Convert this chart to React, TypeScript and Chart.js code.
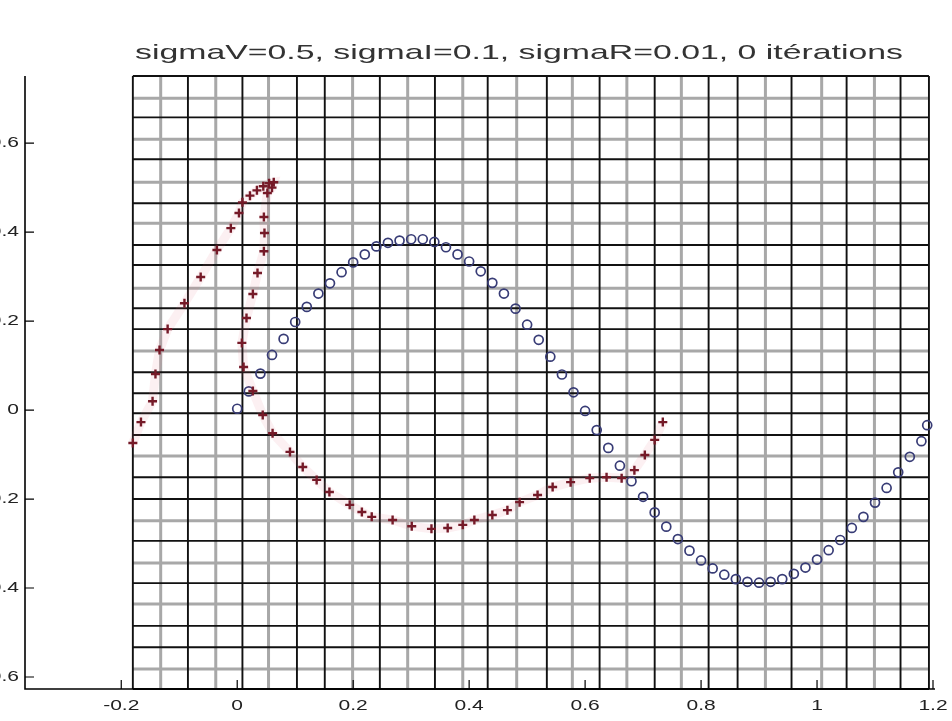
import React, { useEffect, useRef } from "react";
import { Chart, registerables } from "chart.js";
Chart.register(...registerables);

const TITLE = "sigmaV=0.5, sigmaI=0.1, sigmaR=0.01, 0 itérations";

const xTicks = [-0.2, 0, 0.2, 0.4, 0.6, 0.8, 1, 1.2];
const xTickLabels = ["-0.2", "0", "0.2", "0.4", "0.6", "0.8", "1", "1.2"];
const yTicks = [-0.6, -0.4, -0.2, 0, 0.2, 0.4, 0.6];
const yTickLabels = ["-0.6", "-0.4", "-0.2", "0", "0.2", "0.4", "0.6"];

const blueX = [
  0.0, 0.02, 0.04, 0.06, 0.08, 0.1, 0.12, 0.14, 0.16, 0.18,
  0.2, 0.22, 0.24, 0.26, 0.28, 0.3, 0.32, 0.34, 0.36, 0.38,
  0.4, 0.42, 0.44, 0.46, 0.48, 0.5, 0.52, 0.54, 0.56, 0.58,
  0.6, 0.62, 0.64, 0.66, 0.68, 0.7, 0.72, 0.74, 0.76, 0.78,
  0.8, 0.82, 0.84, 0.86, 0.88, 0.9, 0.92, 0.94, 0.96, 0.98,
  1.0, 1.02, 1.04, 1.06, 1.08, 1.1, 1.12, 1.14, 1.16, 1.18, 1.19,
];
const blueY = [
  0.003, 0.042, 0.082, 0.124, 0.16, 0.198, 0.232, 0.262, 0.285, 0.31,
  0.332, 0.35, 0.368, 0.376, 0.381, 0.384, 0.384, 0.378, 0.366, 0.35,
  0.334, 0.312, 0.286, 0.262, 0.228, 0.192, 0.158, 0.12, 0.08, 0.04,
  -0.002, -0.045, -0.085, -0.125, -0.16, -0.195, -0.23, -0.262, -0.29, -0.316,
  -0.338, -0.356, -0.37, -0.38, -0.386, -0.388, -0.386, -0.38, -0.368, -0.354,
  -0.336, -0.315, -0.292, -0.265, -0.24, -0.208, -0.175, -0.14, -0.105, -0.07, -0.034,
];

const redX = [
  -0.18, -0.166, -0.146, -0.141, -0.134, -0.12, -0.091, -0.063, -0.035, -0.011,
  0.003, 0.009, 0.022, 0.034, 0.045, 0.055, 0.063, 0.06, 0.052, 0.046,
  0.047, 0.046, 0.035, 0.027, 0.016, 0.008, 0.011, 0.027, 0.044, 0.061,
  0.091, 0.113, 0.137, 0.159, 0.194, 0.215, 0.232, 0.268, 0.301, 0.335,
  0.363, 0.389, 0.409, 0.44, 0.466, 0.487, 0.518, 0.544, 0.575, 0.608,
  0.637, 0.663, 0.685, 0.703, 0.72, 0.734,
];
const redY = [
  -0.074, -0.027, 0.02, 0.081, 0.135, 0.182, 0.24, 0.299, 0.36, 0.409,
  0.443, 0.467, 0.482, 0.494, 0.503, 0.51, 0.512, 0.5, 0.488, 0.434,
  0.398, 0.357, 0.308, 0.261, 0.207, 0.151, 0.097, 0.043, -0.011, -0.052,
  -0.094, -0.128, -0.157, -0.184, -0.213, -0.229, -0.24, -0.247, -0.261, -0.267,
  -0.265, -0.258, -0.247, -0.236, -0.225, -0.207, -0.191, -0.173, -0.162, -0.153,
  -0.151, -0.153, -0.135, -0.101, -0.067, -0.027,
];

// mesh lines (data units)
const meshX = [
  -0.18, -0.132, -0.085, -0.037, 0.009, 0.054, 0.103, 0.151, 0.199, 0.246,
  0.294, 0.341, 0.389, 0.432, 0.482, 0.534, 0.578, 0.625, 0.672, 0.72,
  0.766, 0.813, 0.863, 0.911, 0.956, 1.008, 1.051, 1.099, 1.144, 1.193,
];
const meshY = [
  0.751, 0.701, 0.658, 0.609, 0.564, 0.512, 0.465, 0.42, 0.371, 0.326,
  0.274, 0.229, 0.182, 0.133, 0.085, 0.038, -0.007, -0.056, -0.103, -0.151,
  -0.2, -0.249, -0.294, -0.344, -0.389, -0.436, -0.485, -0.533, -0.582, -0.627,
];
const meshXTone = "BGBGBGBBGBGBGBGBGBGBGBBGBGBGBB";
const meshYTone = "BGBGBGBGBBGBBGBBBBGBBGBGBGBBGB";

const X_MIN = -0.366;
const X_MAX = 1.2;
const Y_MIN = -0.627;
const Y_MAX = 0.751;

const FONT = '"Liberation Sans", Arial, Helvetica, sans-serif';
const STRETCH = 1.4;

const meshPlugin = {
  id: "mesh",
  beforeDatasetsDraw(chart: any) {
    const { ctx } = chart;
    const xs = chart.scales.x;
    const ys = chart.scales.y;
    const left = xs.getPixelForValue(meshX[0]);
    const right = xs.getPixelForValue(meshX[meshX.length - 1]);
    const top = ys.getPixelForValue(meshY[0]);
    const bottom = ys.getPixelForValue(meshY[meshY.length - 1]);
    ctx.save();
    for (const pass of ["G", "B"]) {
      if (pass === "G") {
        ctx.strokeStyle = "rgba(110,110,110,0.6)";
        ctx.lineWidth = 3;
      } else {
        ctx.strokeStyle = "#111";
        ctx.lineWidth = 1.9;
      }
      ctx.beginPath();
      meshX.forEach((v, i) => {
        if (meshXTone[i] !== pass) return;
        const p = xs.getPixelForValue(v);
        ctx.moveTo(p, top);
        ctx.lineTo(p, bottom);
      });
      meshY.forEach((v, i) => {
        if (meshYTone[i] !== pass) return;
        const p = ys.getPixelForValue(v);
        ctx.moveTo(left, p);
        ctx.lineTo(right, p);
      });
      ctx.stroke();
    }
    ctx.restore();
  },
  afterDraw(chart: any) {
    const { ctx, chartArea } = chart;
    const xs = chart.scales.x;
    const ys = chart.scales.y;
    ctx.save();
    // axes lines
    ctx.strokeStyle = "#000";
    ctx.lineWidth = 1.6;
    ctx.beginPath();
    ctx.moveTo(chartArea.left, chartArea.top);
    ctx.lineTo(chartArea.left, chartArea.bottom);
    ctx.lineTo(chartArea.right + 2, chartArea.bottom);
    ctx.stroke();
    // inward ticks
    ctx.lineWidth = 1.2;
    ctx.beginPath();
    xTicks.forEach((v) => {
      const p = xs.getPixelForValue(v);
      ctx.moveTo(p, chartArea.bottom);
      ctx.lineTo(p, chartArea.bottom - 9);
    });
    yTicks.forEach((v) => {
      const p = ys.getPixelForValue(v);
      ctx.moveTo(chartArea.left, p);
      ctx.lineTo(chartArea.left + 9, p);
    });
    ctx.stroke();
    // tick labels (horizontally stretched like the source)
    ctx.fillStyle = "#222";
    ctx.font = `15px ${FONT}`;
    ctx.textBaseline = "middle";
    xTicks.forEach((v, i) => {
      const p = xs.getPixelForValue(v);
      ctx.save();
      ctx.translate(p, chartArea.bottom + 17);
      ctx.scale(STRETCH, 1);
      ctx.textAlign = "center";
      ctx.fillText(xTickLabels[i], 0, 0);
      ctx.restore();
    });
    yTicks.forEach((v, i) => {
      const p = ys.getPixelForValue(v);
      ctx.save();
      ctx.translate(chartArea.left - 6, p);
      ctx.scale(STRETCH, 1);
      ctx.textAlign = "right";
      ctx.fillText(yTickLabels[i], 0, 0);
      ctx.restore();
    });
    // title
    ctx.font = `21px ${FONT}`;
    ctx.textBaseline = "alphabetic";
    ctx.textAlign = "center";
    ctx.fillStyle = "#333";
    const w = ctx.measureText(TITLE).width;
    ctx.save();
    ctx.translate(chartArea.left + 494, chartArea.top - 17);
    ctx.scale(768 / w, 1);
    ctx.fillText(TITLE, 0, 0);
    ctx.restore();
    ctx.restore();
  },
};

export default function App() {
  const ref = useRef<HTMLCanvasElement | null>(null);
  useEffect(() => {
    if (!ref.current) return;
    const chart = new Chart(ref.current, {
      type: "scatter",
      data: {
        datasets: [
          {
            label: "red",
            data: redX.map((x, i) => ({ x, y: redY[i] })),
            pointStyle: "cross",
            pointRadius: 4.5,
            pointBorderColor: "#751a28",
            pointBorderWidth: 2.4,
            borderColor: "rgba(225,110,130,0.1)",
            borderWidth: 9,
            showLine: true,
            tension: 0,
          } as any,
          {
            label: "blue",
            data: blueX.map((x, i) => ({ x, y: blueY[i] })),
            pointStyle: "circle",
            pointRadius: 4.5,
            pointBorderColor: "#383c76",
            pointBackgroundColor: "rgba(255,255,255,0)",
            pointBorderWidth: 1.7,
            showLine: false,
          } as any,
        ],
      },
      options: {
        responsive: false,
        animation: false,
        devicePixelRatio: 1,
        layout: { padding: { top: 76, right: 27, bottom: 0, left: 0 } },
        plugins: {
          legend: { display: false },
          title: { display: false },
          tooltip: { enabled: false },
        },
        scales: {
          x: {
            type: "linear",
            min: X_MIN,
            max: X_MAX,
            ticks: { display: false },
            grid: { display: false, drawTicks: false },
            border: { display: false },
            afterFit: (s: any) => {
              s.height = 32;
            },
          },
          y: {
            type: "linear",
            min: Y_MIN,
            max: Y_MAX,
            ticks: { display: false },
            grid: { display: false, drawTicks: false },
            border: { display: false },
            afterFit: (s: any) => {
              s.width = 45;
            },
          },
        },
      } as any,
      plugins: [meshPlugin],
    });
    return () => chart.destroy();
  }, []);
  return (
    <div
      style={{
        position: "fixed",
        left: 0,
        top: 0,
        width: 952,
        height: 721,
        overflow: "hidden",
        background: "#fff",
      }}
    >
      <canvas
        ref={ref}
        width={980}
        height={721}
        style={{ position: "absolute", left: -20, top: 0, width: 980, height: 721 }}
      />
    </div>
  );
}
